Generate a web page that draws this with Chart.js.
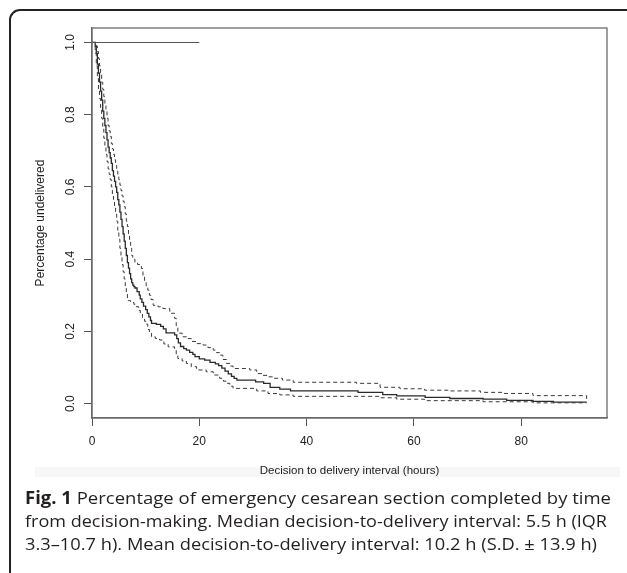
<!DOCTYPE html>
<html>
<head>
<meta charset="utf-8">
<script src="https://cdn.jsdelivr.net/npm/chart.js@4.4.1/dist/chart.umd.min.js"></script>
<style>
  html, body { margin: 0; padding: 0; background: #fff; overflow: hidden; }
  #wrap { position: relative; width: 627px; height: 573px; overflow: hidden; }
  #frame { position: absolute; left: 9px; top: 9px; width: 640px; height: 620px; border: 2px solid #222; border-radius: 11px; box-sizing: border-box; }
  #band { position: absolute; left: 35px; top: 467px; width: 585px; height: 10px; background: #f7f7f7; }
  #chart { position: absolute; left: 0; top: 0; }
  #caption { position: absolute; left: 25px; top: 486px; font-family: 'Open Sans', sans-serif; font-size: 17px; line-height: 23px; color: #231f20; white-space: nowrap; }
  .ln { transform-origin: 0 0; width: max-content; }
</style>
</head>
<body>
<div id="wrap">
  <div id="frame"></div>
  <div id="band"></div>
  <canvas id="chart" width="627" height="573"></canvas>
  <div id="caption">
    <div class="ln" data-w="586"><b>Fig. 1</b> Percentage of emergency cesarean section completed by time</div>
    <div class="ln" data-w="582">from decision-making. Median decision-to-delivery interval: 5.5 h (IQR</div>
    <div class="ln" data-w="572">3.3–10.7 h). Mean decision-to-delivery interval: 10.2 h (S.D. ± 13.9 h)</div>
  </div>
</div>
<script>
// Kaplan-Meier estimate (hours, proportion undelivered)
const kmTimes = [0, 0.6, 0.8, 1.0, 1.2, 1.4, 1.6, 1.8, 2.0, 2.2, 2.4, 2.6, 2.8, 3.0, 3.2, 3.4, 3.6, 3.8, 4.0, 4.2,
    4.4, 4.6, 4.8, 5.0, 5.2, 5.4, 5.6, 5.8, 6.0, 6.2, 6.4, 6.6, 6.8, 7.0, 7.2, 7.4, 7.6, 7.8, 8.0, 8.4,
    8.8, 9.0, 9.3, 9.6, 10.0, 10.3, 10.6, 10.9, 11.1, 12.0, 12.8, 13.3, 13.8, 15.4, 15.8, 16.1, 16.5, 17.1, 17.6, 18.2,
    18.8, 19.2, 20.0, 21.0, 22.0, 23.0, 23.6, 24.2, 24.8, 25.4, 26.0, 26.5, 27.0, 30.5, 32.0, 33.2, 35.0, 37.0, 49.6, 54.2,
    56.8, 62.1, 66.7, 72.9, 77.3, 82.2, 86.0, 92.2];
const kmSurv = [1.0, 0.99, 0.97, 0.94, 0.915, 0.89, 0.865, 0.84, 0.81, 0.79, 0.77, 0.75, 0.73, 0.71, 0.695, 0.68, 0.665, 0.645, 0.63, 0.615,
    0.60, 0.585, 0.565, 0.55, 0.53, 0.51, 0.49, 0.47, 0.45, 0.43, 0.41, 0.39, 0.375, 0.36, 0.345, 0.335, 0.328, 0.324, 0.32, 0.31,
    0.30, 0.29, 0.28, 0.27, 0.26, 0.25, 0.24, 0.23, 0.222, 0.219, 0.214, 0.207, 0.196, 0.19, 0.18, 0.168, 0.158, 0.152, 0.148, 0.142,
    0.136, 0.13, 0.124, 0.12, 0.114, 0.11, 0.105, 0.098, 0.09, 0.082, 0.075, 0.07, 0.065, 0.06, 0.056, 0.045, 0.04, 0.035, 0.031, 0.025,
    0.021, 0.017, 0.014, 0.012, 0.009, 0.006, 0.004, 0.004];

// upper 95% confidence limit
const upperTimes = [0, 0.6, 0.8, 1.0, 1.2, 1.4, 1.6, 1.8, 2.0, 2.2, 2.4, 2.6, 2.8, 3.0, 3.2, 3.4, 3.6, 3.8, 4.0, 4.2,
    4.4, 4.6, 4.8, 5.0, 5.2, 5.4, 5.6, 5.8, 6.0, 6.2, 6.4, 6.6, 6.8, 7.0, 7.2, 7.4, 7.6, 8.0, 8.5, 9.2,
    9.5, 9.8, 10.1, 10.4, 10.7, 11.0, 11.4, 12.3, 13.2, 14.5, 15.4, 15.7, 16.0, 16.8, 17.6, 18.5, 19.5, 20.7, 21.6, 22.6,
    23.2, 23.8, 24.4, 25.1, 25.7, 26.3, 29.4, 30.7, 31.8, 32.8, 33.8, 35.5, 37.5, 49.3, 53.7, 57.4, 62.0, 66.7, 72.4, 76.7,
    82.2, 92.2];
const upperVals = [1.0, 1.0, 0.99, 0.975, 0.955, 0.935, 0.915, 0.89, 0.87, 0.85, 0.83, 0.81, 0.79, 0.77, 0.755, 0.74, 0.72, 0.705, 0.69, 0.675,
    0.66, 0.65, 0.635, 0.62, 0.605, 0.59, 0.575, 0.56, 0.545, 0.525, 0.505, 0.49, 0.47, 0.45, 0.43, 0.41, 0.40, 0.39, 0.385, 0.374,
    0.355, 0.34, 0.325, 0.314, 0.30, 0.288, 0.272, 0.268, 0.263, 0.25, 0.236, 0.215, 0.195, 0.185, 0.18, 0.172, 0.166, 0.162, 0.155, 0.148,
    0.141, 0.134, 0.122, 0.111, 0.104, 0.097, 0.093, 0.083, 0.078, 0.074, 0.07, 0.065, 0.059, 0.056, 0.045, 0.041, 0.037, 0.035, 0.031, 0.028,
    0.022, 0.005];

// lower 95% confidence limit
const lowerTimes = [0, 0.6, 0.8, 1.0, 1.2, 1.4, 1.6, 1.8, 2.0, 2.2, 2.4, 2.6, 2.8, 3.0, 3.2, 3.4, 3.6, 3.8, 4.0, 4.2,
    4.4, 4.6, 4.8, 5.0, 5.2, 5.4, 5.6, 5.8, 6.0, 6.2, 6.4, 6.6, 6.8, 7.2, 7.8, 8.3, 8.7, 9.0, 9.4, 9.8,
    10.1, 10.4, 10.7, 11.1, 11.8, 12.6, 13.4, 14.2, 15.4, 15.7, 16.0, 16.8, 17.6, 18.5, 19.5, 21.3, 22.6, 23.8, 24.5, 25.1,
    25.7, 26.3, 30.7, 32.8, 35.0, 37.5, 53.7, 56.8, 62.0, 72.9, 82.2, 92.2];
const lowerVals = [1.0, 0.97, 0.935, 0.90, 0.87, 0.845, 0.815, 0.79, 0.76, 0.735, 0.71, 0.69, 0.67, 0.65, 0.635, 0.62, 0.60, 0.58, 0.565, 0.545,
    0.525, 0.505, 0.48, 0.455, 0.43, 0.405, 0.385, 0.365, 0.345, 0.325, 0.305, 0.29, 0.285, 0.28, 0.275, 0.268, 0.258, 0.25, 0.238, 0.228,
    0.22, 0.205, 0.195, 0.185, 0.18, 0.176, 0.165, 0.157, 0.148, 0.135, 0.125, 0.118, 0.111, 0.102, 0.093, 0.088, 0.079, 0.07, 0.062, 0.056,
    0.048, 0.042, 0.035, 0.028, 0.024, 0.02, 0.016, 0.012, 0.008, 0.005, 0.002, 0.002];

// stray horizontal segment at 1.0
const refTimes = [0, 20];
const refVals = [1.0, 1.0];

const xTicks = [0, 20, 40, 60, 80];
const yTicks = [0.0, 0.2, 0.4, 0.6, 0.8, 1.0];

const toPts = (xs, ys) => xs.map((x, i) => ({ x: x, y: ys[i] }));

// fit each caption line to its width
document.querySelectorAll('.ln').forEach(el => {
    const w = el.getBoundingClientRect().width;
    el.style.transform = `scaleX(${el.dataset.w / w})`;
});

// R-style box and rotated y labels
const rPlot = {
    id: 'rPlot',
    afterDraw(chart) {
        const { ctx, chartArea: a, scales } = chart;
        ctx.save();
        ctx.strokeStyle = '#6b6b6b';
        ctx.lineWidth = 1.3;
        ctx.strokeRect(a.left, a.top, a.right - a.left, a.bottom - a.top);
        ctx.fillStyle = '#222';
        ctx.font = '12px "Liberation Sans"';
        ctx.textAlign = 'center';
        ctx.textBaseline = 'middle';
        scales.y.ticks.forEach(t => {
            const py = scales.y.getPixelForValue(t.value);
            ctx.save();
            ctx.translate(a.left - 21, py);
            ctx.rotate(-Math.PI / 2);
            ctx.fillText(t.value.toFixed(1), 0, 0);
            ctx.restore();
        });
        ctx.restore();
    }
};

const axisFont = { family: 'Liberation Sans', size: 12 };

new Chart(document.getElementById('chart').getContext('2d'), {
    type: 'line',
    data: {
        datasets: [
            { data: toPts(refTimes, refVals), borderColor: '#555', borderWidth: 1.1 },
            { data: toPts(upperTimes, upperVals), borderColor: '#3a3a3a', borderWidth: 1, borderDash: [4, 3], stepped: true },
            { data: toPts(lowerTimes, lowerVals), borderColor: '#3a3a3a', borderWidth: 1, borderDash: [4, 3], stepped: true },
            { data: toPts(kmTimes, kmSurv), borderColor: '#2a2a2a', borderWidth: 1.3, stepped: true }
        ]
    },
    options: {
        responsive: false,
        animation: false,
        elements: { point: { radius: 0 } },
        layout: { padding: { top: 28, right: 20, left: 0, bottom: 0 } },
        plugins: { legend: { display: false }, tooltip: { enabled: false } },
        scales: {
            x: {
                type: 'linear', min: 0, max: 96,
                afterFit: s => { s.height = 155; },
                afterBuildTicks: s => { s.ticks = xTicks.map(v => ({ value: v })); },
                ticks: { padding: 8, color: '#222', font: axisFont },
                grid: { drawOnChartArea: false, drawTicks: true, tickLength: 8, color: '#555' },
                border: { display: true, color: '#666', width: 1.3 },
                title: { display: true, text: 'Decision to delivery interval (hours)', color: '#222',
                         font: { family: 'Liberation Sans', size: 11.5 }, padding: { top: 0, bottom: 95 } }
            },
            y: {
                type: 'linear', min: -0.04, max: 1.04,
                afterFit: s => { s.width = 92; },
                afterBuildTicks: s => { s.ticks = yTicks.map(v => ({ value: v })); },
                ticks: { display: false },
                grid: { drawOnChartArea: false, drawTicks: true, tickLength: 8, color: '#555' },
                border: { display: true, color: '#666', width: 1.3 },
                title: { display: true, text: 'Percentage undelivered', color: '#222',
                         font: axisFont, padding: { top: 33, bottom: 0 } }
            }
        }
    },
    plugins: [rPlot]
});
</script>
</body>
</html>
